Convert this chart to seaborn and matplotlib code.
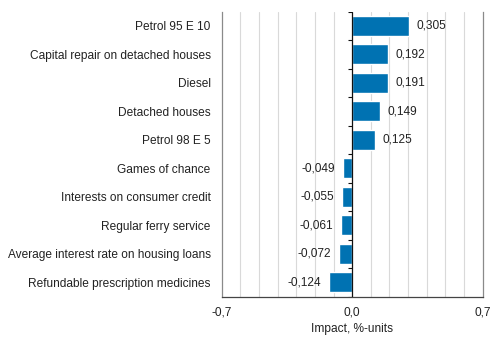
import matplotlib
matplotlib.use("Agg")
import matplotlib.pyplot as plt
import seaborn as sns
import pandas as pd
import numpy as np

categories = [
    "Petrol 95 E 10",
    "Capital repair on detached houses",
    "Diesel",
    "Detached houses",
    "Petrol 98 E 5",
    "Games of chance",
    "Interests on consumer credit",
    "Regular ferry service",
    "Average interest rate on housing loans",
    "Refundable prescription medicines",
]
impact = [0.305, 0.192, 0.191, 0.149, 0.125, -0.049, -0.055, -0.061, -0.072, -0.124]
x_ticks = [-0.7, 0.0, 0.7]
x_label = "Impact, %-units"

df = pd.DataFrame({"category": categories, "impact": impact})

sns.set_style("white")
plt.rcParams["font.family"] = ["Liberation Sans", "DejaVu Sans"]
FS = 8.6

fig = plt.figure(figsize=(4.99, 3.40), dpi=100)
ax = fig.add_axes([0.4443, 0.1274, 0.5230, 0.8382])

sns.barplot(data=df, x="impact", y="category", orient="h", color="#0072b2",
            saturation=1, width=0.7, ax=ax, zorder=3)

ax.set_xlim(-0.7, 0.7)
ax.set_ylim(9.5, -0.5)

# light vertical grid every 0.1
ax.set_xticks(np.arange(-0.6, 0.65, 0.1), minor=True)
ax.grid(which="minor", axis="x", color="#d9d9d9", linewidth=0.8, zorder=0)
ax.tick_params(axis="x", which="minor", length=0)

ax.set_xticks(x_ticks)
ax.set_xticklabels([f"{t:.1f}".replace(".", ",") for t in x_ticks], fontsize=FS, color="#222222")
ax.tick_params(axis="x", which="major", length=4, width=0.8, color="#555555", pad=3)
ax.set_xlabel(x_label, fontsize=FS, color="#222222", labelpad=3)

ax.set_ylabel("")
ax.tick_params(axis="y", length=0, pad=8, labelsize=FS, labelcolor="#222222")

for side in ["left", "right"]:
    ax.spines[side].set_color("#8a8a8a")
    ax.spines[side].set_linewidth(0.9)
ax.spines["top"].set_visible(False)
ax.spines["bottom"].set_color("#444444")
ax.spines["bottom"].set_linewidth(0.9)

# zero line with small ticks between categories
ax.axvline(0, color="#111111", linewidth=0.9, zorder=4)
bounds = np.arange(-0.5, len(categories), 1.0)
ax.hlines(bounds, -0.022, 0, color="#111111", linewidth=0.8, zorder=4)

for i, v in enumerate(impact):
    label = f"{v:.3f}".replace(".", ",")
    if v >= 0:
        ax.text(v + 0.04, i, label, va="center", ha="left", fontsize=FS, color="#222222")
    else:
        ax.text(v - 0.04, i, label, va="center", ha="right", fontsize=FS, color="#222222")

fig.savefig("out.png", dpi=100)
